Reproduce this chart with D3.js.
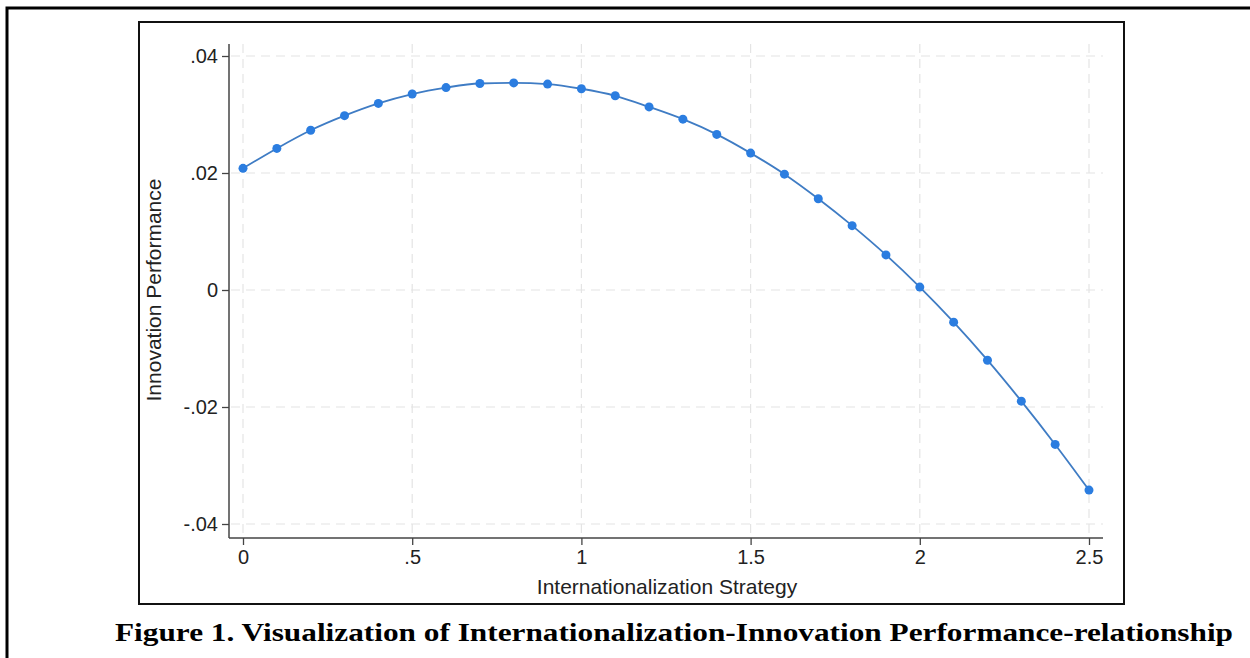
<!DOCTYPE html>
<html>
<head>
<meta charset="utf-8">
<script src="https://cdn.jsdelivr.net/npm/d3@7"></script>
<style>
  body { margin: 0; background: #fff; }
  svg { display: block; }
</style>
</head>
<body>
<svg id="chart" width="1250" height="658"></svg>
<script>
// Values
var xValues = [0, 0.1, 0.2, 0.3, 0.4, 0.5, 0.6, 0.7, 0.8, 0.9, 1.0, 1.1, 1.2,
  1.3, 1.4, 1.5, 1.6, 1.7, 1.8, 1.9, 2.0, 2.1, 2.2, 2.3, 2.4, 2.5];
var yValues = [0.0208, 0.0242, 0.0273, 0.0298, 0.0319, 0.0335, 0.0346, 0.0353,
  0.0354, 0.0352, 0.0344, 0.0332, 0.0313, 0.0292, 0.0266, 0.0234, 0.0198,
  0.0156, 0.0110, 0.0060, 0.0005, -0.0055, -0.0120, -0.0190, -0.0264, -0.0342];
var xTicks = [0, 0.5, 1, 1.5, 2, 2.5];
var xTickLabels = ["0", ".5", "1", "1.5", "2", "2.5"];
var yTicks = [0.04, 0.02, 0, -0.02, -0.04];
var yTickLabels = [".04", ".02", "0", "-.02", "-.04"];
var xTitle = "Internationalization Strategy";
var yTitle = "Innovation Performance";
var caption = "Figure 1. Visualization of Internationalization-Innovation Performance-relationship";

var svg = d3.select("#chart");
var font = "'Liberation Sans', Arial, sans-serif";

// outer page frame (only top and left show)
svg.append("rect")
  .attr("x", 7).attr("y", 8).attr("width", 1300).attr("height", 700)
  .attr("fill", "none").attr("stroke", "#000").attr("stroke-width", 3);

// graph box
svg.append("rect")
  .attr("x", 139).attr("y", 22).attr("width", 985).attr("height", 582)
  .attr("fill", "#fff").attr("stroke", "#111").attr("stroke-width", 2);

var plot = { left: 229, right: 1103, top: 44, bottom: 538 };

var x = d3.scaleLinear().domain([0, 2.5]).range([243, 1089]);
var y = d3.scaleLinear().domain([-0.04, 0.04]).range([524, 56]);

// gridlines
svg.append("g").selectAll("line").data(yTicks).enter().append("line")
  .attr("x1", plot.left + 2).attr("x2", plot.right)
  .attr("y1", function(d) { return y(d); }).attr("y2", function(d) { return y(d); })
  .attr("stroke", "#e4e4e4").attr("stroke-width", 1.2).attr("stroke-dasharray", "9,6");
svg.append("g").selectAll("line").data(xTicks).enter().append("line")
  .attr("x1", function(d) { return x(d); }).attr("x2", function(d) { return x(d); })
  .attr("y1", plot.top).attr("y2", plot.bottom - 2)
  .attr("stroke", "#e4e4e4").attr("stroke-width", 1.2).attr("stroke-dasharray", "9,6");

// axes
var xAxis = d3.axisBottom(x).tickValues(xTicks).tickSize(7).tickPadding(5)
  .tickFormat(function(d, i) { return xTickLabels[i]; });
var gx = svg.append("g").attr("transform", "translate(0," + plot.bottom + ")").call(xAxis);
gx.select(".domain").attr("d", "M" + plot.left + ",0H" + plot.right);

var yAxis = d3.axisLeft(y).tickValues(yTicks).tickSize(7).tickPadding(4)
  .tickFormat(function(d, i) { return yTickLabels[i]; });
var gy = svg.append("g").attr("transform", "translate(" + plot.left + ",0)").call(yAxis);
gy.select(".domain").attr("d", "M0," + plot.top + "V" + plot.bottom);

[gx, gy].forEach(function(g) {
  g.selectAll(".domain").attr("stroke", "#444").attr("stroke-width", 1.5);
  g.selectAll(".tick line").attr("stroke", "#444").attr("stroke-width", 1.3);
  g.selectAll(".tick text").attr("fill", "#222").style("font-family", font).style("font-size", "20px");
});

// axis titles
svg.append("text")
  .attr("x", 667).attr("y", 594).attr("text-anchor", "middle")
  .style("font-family", font).style("font-size", "21px").attr("fill", "#222")
  .text(xTitle);
svg.append("text")
  .attr("transform", "translate(161,290) rotate(-90)").attr("text-anchor", "middle")
  .style("font-family", font).style("font-size", "21px").attr("fill", "#222")
  .text(yTitle);

// line and markers
var pts = xValues.map(function(d, i) { return [d, yValues[i]]; });
var line = d3.line()
  .x(function(d) { return x(d[0]); })
  .y(function(d) { return y(d[1]); })
  .curve(d3.curveMonotoneX);
svg.append("path").datum(pts)
  .attr("d", line).attr("fill", "none")
  .attr("stroke", "#3f7cc4").attr("stroke-width", 1.8);
svg.append("g").selectAll("circle").data(pts).enter().append("circle")
  .attr("cx", function(d) { return x(d[0]); })
  .attr("cy", function(d) { return y(d[1]); })
  .attr("r", 4.5).attr("fill", "#2b7de0");

// caption
svg.append("text")
  .attr("x", 674).attr("y", 641).attr("text-anchor", "middle")
  .attr("textLength", 1118).attr("lengthAdjust", "spacingAndGlyphs")
  .style("font-family", "'Liberation Serif', 'DejaVu Serif', serif")
  .style("font-weight", "bold").style("font-size", "26px").attr("fill", "#000")
  .text(caption);
</script>
</body>
</html>
